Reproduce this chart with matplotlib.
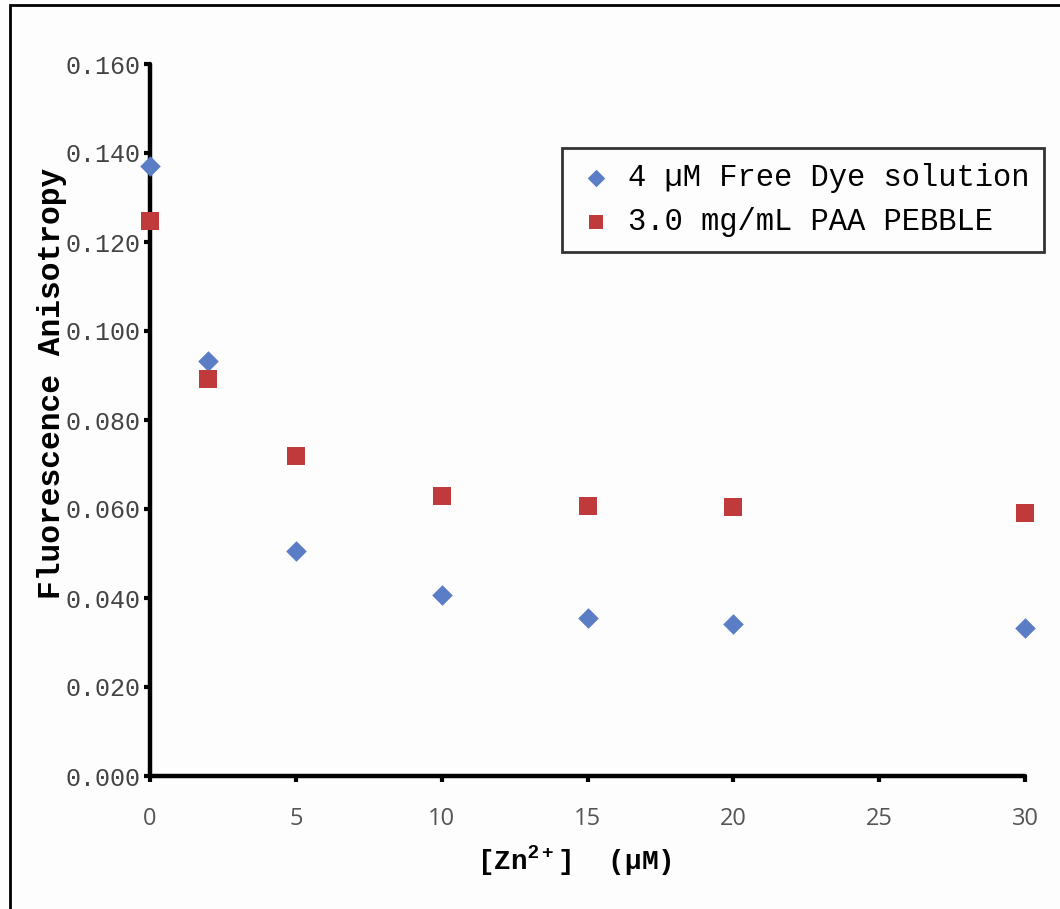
import matplotlib
matplotlib.use("Agg")
import matplotlib.pyplot as plt
from matplotlib.patches import Rectangle

zn = [0, 2, 5, 10, 15, 20, 30]
free_dye = [0.1371, 0.0933, 0.0506, 0.0407, 0.0355, 0.0342, 0.0333]
pebble = [0.1247, 0.0892, 0.0719, 0.0629, 0.0607, 0.0604, 0.0591]
x_ticks = [0, 5, 10, 15, 20, 25, 30]
y_ticks = [0.0, 0.02, 0.04, 0.06, 0.08, 0.10, 0.12, 0.14, 0.16]
labels = ["4 \u00b5M Free Dye solution", "3.0 mg/mL PAA PEBBLE"]

plt.rcParams['mathtext.fontset'] = 'custom'
plt.rcParams['mathtext.rm'] = 'Liberation Sans:bold'
plt.rcParams['mathtext.bf'] = 'Liberation Sans:bold'

fig = plt.figure(figsize=(10.6, 9.09), dpi=100)
fig.patch.set_facecolor('#fdfdfd')
ax = fig.add_axes([150/1060, 1-776/909, 875/1060, 712/909])
ax.set_facecolor('#fdfdfd')

ax.scatter(zn, free_dye, marker='D', s=110, color='#5a7dc6', label=labels[0], clip_on=False, zorder=3, linewidths=0)
ax.scatter(zn, pebble, marker='s', s=150, color='#c03a3c', label=labels[1], clip_on=False, zorder=3, linewidths=0)

ax.set_xlim(0, 30)
ax.set_ylim(0, 0.16)
ax.set_xticks(x_ticks)
ax.set_xticklabels([str(v) for v in x_ticks], fontfamily='Open Sans', fontsize=17, color='#555555')
ax.set_yticks(y_ticks)
ax.set_yticklabels([f"{v:.3f}" for v in y_ticks], fontfamily='Liberation Mono', fontsize=18, color='#444444')

for s in ['top', 'right']:
    ax.spines[s].set_visible(False)
for s in ['left', 'bottom']:
    ax.spines[s].set_linewidth(3.2)
    ax.spines[s].set_capstyle('round')
ax.tick_params(axis='both', length=4, width=3, direction='out')
ax.tick_params(axis='x', pad=18)
ax.tick_params(axis='y', pad=3)

ax.set_ylabel("Fluorescence Anisotropy", fontfamily='Liberation Mono', fontweight='bold', fontsize=22.5)
ax.yaxis.set_label_coords(-0.095, 0.552)
ax.set_xlabel("[Zn$^{2+}$]  (\u00b5M)", fontfamily='Liberation Mono', fontweight='bold', fontsize=20)
ax.xaxis.set_label_coords(0.4846, -0.095)

leg = ax.legend(loc='upper left', bbox_to_anchor=(562/1060, 1-148/909), bbox_transform=fig.transFigure,
                prop={'family': 'Liberation Mono', 'size': 22}, frameon=True, fancybox=False,
                edgecolor='black', handletextpad=0.45, borderpad=0.5, labelspacing=0.45, handlelength=1.2,
                borderaxespad=0, scatterpoints=1, markerscale=0.85)
leg.get_frame().set_linewidth(2)
leg.get_frame().set_facecolor('#fdfdfd')

fig.patches.append(Rectangle((10/1060, -0.1), 2.0, 1.1 - 5/909, transform=fig.transFigure,
                             fill=False, edgecolor='black', linewidth=2, figure=fig))

fig.savefig('out.png', dpi=100, facecolor=fig.get_facecolor())
